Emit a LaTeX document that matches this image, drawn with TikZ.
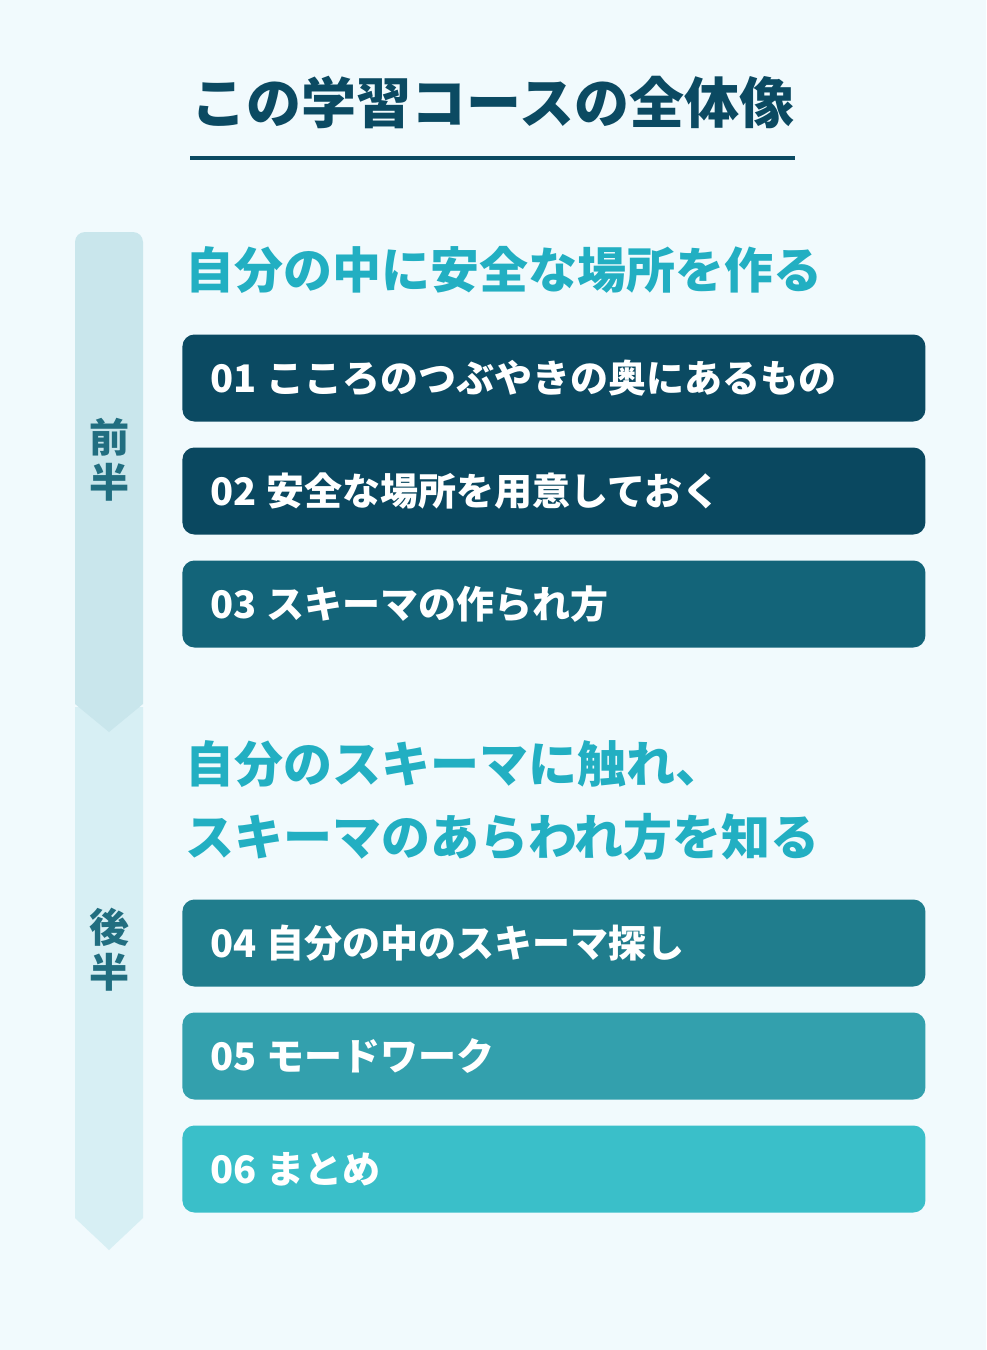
\documentclass[tikz,border=0pt]{standalone}
\usepackage{fontspec}
\setmainfont{Noto Sans CJK JP}
\definecolor{bgpale}{HTML}{F1FAFD}
\definecolor{navy}{HTML}{0B4A62}
\definecolor{sidetxt}{HTML}{216E80}
\definecolor{headcyan}{HTML}{22AFC2}
\definecolor{barfirst}{HTML}{C9E6EC}
\definecolor{barsecond}{HTML}{D7EFF4}
\definecolor{stepa}{HTML}{0B4A62}
\definecolor{stepb}{HTML}{0A4860}
\definecolor{stepc}{HTML}{136479}
\definecolor{stepd}{HTML}{207D8D}
\definecolor{stepe}{HTML}{33A0AD}
\definecolor{stepf}{HTML}{3ABFC9}
\tikzset{
  stepbox/.style={anchor=west,rounded corners=6pt,text=white,font=\bfseries\fontsize{19}{22}\selectfont,
    text width=343.5pt,inner xsep=14pt,minimum height=43.5pt,align=left},
  parthead/.style={anchor=west,inner sep=0pt,text=headcyan,font=\bfseries\fontsize{24.5}{36.5}\selectfont,align=left},
  sidelabel/.style={text=sidetxt,font=\bfseries\fontsize{20}{22.5}\selectfont,align=center}
}
\begin{document}
\begin{tikzpicture}[x=0.5pt,y=-0.5pt]
\useasboundingbox (0,0) rectangle (986,1350);
\fill[bgpale] (0,0) rectangle (986,1350);
% title
\node[text=navy,font=\bfseries\fontsize{27.5}{30}\selectfont] (title) at (493,102) {この学習コースの全体像};
\draw[navy,line width=2pt] (190,158) -- (795,158);
% side bars
\fill[barsecond] (75,707) -- (143,707) -- (143,1218) -- (109,1250) -- (75,1218) -- cycle;
\fill[barfirst] (75,704) [rounded corners=5pt] -- (75,232) -- (143,232) [sharp corners] -- (143,704) -- (109,732) -- cycle;
\node[sidelabel] (first) at (109,460) {前\\半};
\node[sidelabel] (second) at (109,950) {後\\半};
% headings
\node[parthead] (headA) at (185,270) {自分の中に安全な場所を作る};
\node[parthead] (headB) at (185,801) {自分のスキーマに触れ、\\スキーマのあらわれ方を知る};
% steps
\foreach \i/\y/\c/\t in {1/378/stepa/こころのつぶやきの奥にあるもの,2/491/stepb/安全な場所を用意しておく,
  3/604/stepc/スキーマの作られ方,4/943/stepd/自分の中のスキーマ探し,5/1056/stepe/モードワーク,6/1169/stepf/まとめ}
  \node[stepbox,fill=\c] (step\i) at (182,\y) {0\i\hspace{5pt}\t};
\end{tikzpicture}
\end{document}
